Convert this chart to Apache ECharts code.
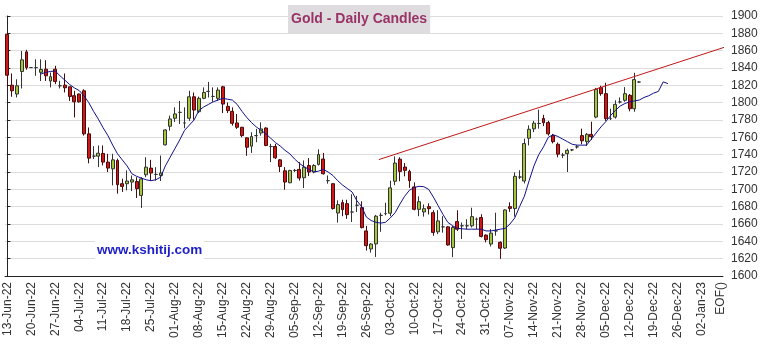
<!DOCTYPE html>
<html><head><meta charset="utf-8">
<script src="https://cdn.jsdelivr.net/npm/echarts@6/dist/echarts.min.js"></script>
<style>html,body{margin:0;padding:0;background:#fff}#c{width:763px;height:344px}</style>
</head><body><div id="c"></div>
<script>
// Weekly tick labels (Mondays), each week = 5 trading-day slots
const weekLabels = ['13-Jun-22','20-Jun-22','27-Jun-22','04-Jul-22','11-Jul-22','18-Jul-22','25-Jul-22',
 '01-Aug-22','08-Aug-22','15-Aug-22','22-Aug-22','29-Aug-22','05-Sep-22','12-Sep-22','19-Sep-22','26-Sep-22',
 '03-Oct-22','10-Oct-22','17-Oct-22','24-Oct-22','31-Oct-22','07-Nov-22','14-Nov-22','21-Nov-22','28-Nov-22',
 '05-Dec-22','12-Dec-22','19-Dec-22','26-Dec-22','02-Jan-23'];
const endLabel = 'EOF()';
const slotCount = 150;
const endSlot = 149;

// Daily candles: [open, close, low, high]
const opens  = [1878.9,1820.2,1810,1836,1858.6,1840.5,1840.5,1835,1838.6,1825,
 1838.6,1819.5,1820.2,1818.3,1808,1810,1813.7,1764,1738.3,1738.3,
 1741.4,1731.4,1723.7,1733.3,1706.5,1706.5,1708.4,1709,1693,1716.8,
 1724.5,1717.2,1716,1751.3,1772.8,1782,1788.8,1776.6,1782,1806.8,
 1789.6,1805,1813,1807.2,1805,1818.3,1795.7,1790,1776.6,1771.6,
 1759.4,1749.8,1762,1765,1770.8,1749.4,1749.4,1734,1721.4,1707.6,
 1721.8,1723,1713.4,1727.5,1720,1728.7,1735,1710,1706.5,1672.7,
 1684.7,1683.5,1673.8,1681.6,1678.9,1652,1631.2,1637,1670,1672,
 1672.4,1709.3,1734.8,1725.7,1720.7,1702.8,1676.9,1673.9,1680,1673.1,
 1651,1656.7,1656.7,1632.7,1662.8,1657.9,1657.9,1657.9,1665.5,1667.4,
 1647.2,1636.9,1652,1638.8,1632.3,1680,1677.8,1714.2,1709.6,1759,
 1769.8,1776,1781.7,1777,1762,1752,1739.5,1741.2,1745.5,1749,
 1762,1755,1763.4,1783.4,1817.4,1810.4,1781.6,1783.4,1800.8,1802.7,
 1808.5,1793,1823.8];
const closes = [1831.7,1813.7,1819.5,1849.4,1840.5,1840.5,1840.5,1838.3,1831,1830,
 1824.5,1819.5,1817.2,1807.2,1801,1801,1764,1736,1738.3,1741.7,
 1731.4,1724.5,1734,1705.4,1703.4,1709.6,1711,1700.8,1712,1725.6,
 1718.8,1717.2,1718.8,1768.5,1781.2,1787,1788.8,1776.6,1806.8,1791.5,
 1805,1811.8,1813,1807.2,1814.5,1798.4,1790.8,1776.2,1771.6,1762,
 1748.6,1760.9,1762,1769.7,1750.6,1749.4,1736.4,1726.4,1708.4,1721.8,
 1721.8,1713,1725.6,1720,1727.5,1740.2,1718,1710,1677.8,1682.4,
 1676.6,1670.8,1673.8,1681.6,1655.8,1635,1636.9,1669,1670,1672,
 1701.7,1730.3,1720.7,1721.9,1710,1676.9,1685.7,1677.7,1677.7,1650.3,
 1663.6,1656.7,1635.8,1656,1654,1657.9,1657.9,1668.5,1665.5,1645.7,
 1641.9,1649.5,1652,1632,1676.2,1678,1715,1714.2,1752.8,1769.3,
 1776.3,1776,1776.8,1764,1755,1740.6,1739.5,1745,1745.5,1749,
 1756,1763.4,1760.8,1815.4,1810.4,1781.6,1781.6,1798,1800.8,1810.4,
 1793,1826.6,1823.8];
const lows   = [1818,1806.8,1806,1816.4,1838,1840,1831,1825,1825,1817.6,
 1821.4,1816.4,1811.8,1802,1783,1800,1762,1730,1735,1725.7,
 1727.6,1720,1704.6,1695,1697,1698.8,1698,1690,1678.5,1714,
 1710,1710,1709.6,1750.6,1767.8,1777.7,1775.4,1770.5,1779,1780.4,
 1788,1804,1806,1801,1802,1788,1788,1773.5,1769.7,1760,
 1738.7,1742,1754.4,1762,1749.8,1731.4,1735,1720,1699.6,1707,
 1720,1710,1701.5,1715.3,1718.5,1727.5,1717,1706.5,1676.6,1661.6,
 1669,1666,1662.3,1673.8,1655,1629.3,1627,1622,1651,1670,
 1669,1704.8,1709.3,1715,1701.7,1675.8,1669,1668.5,1671,1646.5,
 1648.4,1650,1635,1621.7,1652,1642.7,1654,1656,1654,1644.5,
 1638.8,1634,1646.5,1619.8,1631.2,1674,1668.5,1711.8,1706.8,1750.6,
 1766,1770,1773,1762,1753,1737,1736,1720,1744,1747,
 1752,1750,1757,1782,1808,1779,1780,1781.6,1799,1801,
 1790,1789.5,1822.8];
const highs  = [1881.5,1833.7,1827,1859.7,1861,1841,1850,1850,1849,1834.8,
 1842.5,1825.2,1833.7,1818.5,1813.7,1810.5,1815.5,1771.4,1749.8,1750.6,
 1750.6,1741,1741,1735.4,1712.3,1721.8,1716,1714,1714,1737,
 1734,1725.6,1739,1769.5,1785,1794.6,1802,1794.6,1813.7,1811.8,
 1807,1817.6,1824,1817.6,1817.6,1819.5,1800.3,1794.6,1787,1772,
 1760,1765.8,1769.7,1777.3,1771.5,1752.5,1752.5,1735,1725.6,1722.5,
 1723.5,1731.4,1733.3,1736,1729,1746,1742,1716,1707,1687.3,
 1688,1688,1694.3,1692.4,1686.2,1657.9,1638,1670.5,1673,1684.6,
 1710,1738,1737,1730.3,1722.6,1708,1692,1682.6,1683.8,1675.8,
 1676,1669,1657.5,1657.9,1675.8,1661.7,1665.5,1678.8,1667.4,1671.2,
 1648,1654,1673,1640,1677,1685,1719.6,1722,1758.5,1773.8,
 1779,1792,1786,1779,1764,1754,1742,1747,1746.5,1751,
 1770,1765,1778,1817,1819.5,1823,1793,1802.7,1806,1818,
 1810,1834.5,1824.5];

// Moving average (blue), starting at slot 7, runs a few slots past the last candle
const maStart = 7;
const maValues = [1833,1835,1836,1836.5,1831,1826,1821,1817,1814,1808,
 1800,1790,1781,1771,1762,1751,1741,1734,1727,1718,
 1715,1713,1711,1710,1711,1714,1727,1737,1747,1757,
 1768,1774,1780,1791,1795,1798,1801,1803,1805,1804,
 1803,1798,1790,1783,1777,1772,1768,1764,1759,1754,
 1750,1745,1741,1735,1730,1726,1723,1720,1721,1723,
 1720,1716,1710,1705,1701,1697,1687,1680,1668,1664,
 1662,1661,1662,1667,1673,1683,1692,1699,1702,1703.5,
 1703,1700,1691,1681,1671,1662,1658,1655,1654.5,1654,
 1654,1654,1654,1652,1652,1653,1654,1655,1660,1667,
 1680,1692,1710,1727,1740,1749,1760,1763,1761,1758,
 1755,1752,1751,1751,1751,1758,1765,1772,1778,1785,
 1791,1796,1799,1801,1802,1803,1806,1808,1811,1813,
 1824,1822];

// Trend line endpoints [slot position, price]
const trendLine = [[77.6, 1734.3], [151, 1866.1]];

const yTicks = {min: 1600, max: 1900, step: 20};
const titleText = 'Gold - Daily Candles';
const watermark = 'www.kshitij.com';

// ---- build ----
const cats = [];
const labelled = new Set();
for (let i = 0; i < slotCount; i++) {
  if (i % 5 === 0 && i / 5 < weekLabels.length) { cats.push(weekLabels[i / 5]); labelled.add(i); }
  else if (i === endSlot) { cats.push(endLabel); labelled.add(i); }
  else cats.push('s' + i);
}
const candles = opens.map((o, i) => [o, closes[i], lows[i], highs[i]]);
const ma = [];
for (let i = 0; i < maStart; i++) ma.push(null);
maValues.forEach(v => ma.push(v));

const showFn = (idx) => labelled.has(idx);
const FONT = 'Liberation Sans, Arial, sans-serif';

const chart = echarts.init(document.getElementById('c'), null, {renderer: 'canvas'});
chart.setOption({
  animation: false,
  backgroundColor: '#fff',
  title: {
    text: titleText, left: 288, top: 5,
    backgroundColor: '#dedcde', padding: [7, 3, 7, 3],
    textStyle: {fontFamily: FONT, fontSize: 14, fontWeight: 'bold', color: '#993366', lineHeight: 14}
  },
  grid: {left: 5, right: 40, top: 16, bottom: 68, containLabel: false},
  xAxis: [{
    type: 'category', data: cats, boundaryGap: true,
    axisLine: {lineStyle: {color: '#222', width: 1}},
    axisTick: {interval: showFn, length: 3, lineStyle: {color: '#222'}},
    axisLabel: {interval: showFn, rotate: 90, margin: 6, fontSize: 12, color: '#333', fontFamily: FONT},
    splitLine: {show: false}
  }, {
    type: 'value', min: -0.5, max: slotCount - 0.5, show: false
  }],
  yAxis: {
    type: 'value', position: 'right', min: yTicks.min, max: yTicks.max, interval: yTicks.step,
    axisLine: {show: true, lineStyle: {color: '#222'}},
    axisTick: {show: true, length: 3, lineStyle: {color: '#222'}},
    axisLabel: {fontSize: 12, color: '#333', margin: 8, fontFamily: FONT, formatter: (v) => String(v)},
    splitLine: {lineStyle: {color: '#dcdcdc', width: 1}}
  },
  graphic: [{
    type: 'rect', z: 1, shape: {x: 95, y: 236, width: 109, height: 28}, style: {fill: '#fff'}
  }, {
    type: 'text', z: 1, x: 97, y: 250,
    style: {text: watermark, fill: '#1e1ec8', font: 'bold 13.5px ' + FONT, textVerticalAlign: 'middle'}
  }],
  series: [{
    type: 'candlestick', data: candles, barWidth: 3.4,
    itemStyle: {color: '#a2c83a', color0: '#d01818', borderColor: '#333', borderColor0: '#4a0a0a',
      borderColorDoji: '#333', borderWidth: 1}
  }, {
    type: 'line', data: ma, showSymbol: false, symbol: 'none', connectNulls: false,
    lineStyle: {color: '#10108c', width: 1}, z: 3
  }, {
    type: 'line', xAxisIndex: 1, data: trendLine, showSymbol: false, symbol: 'none', clip: false,
    lineStyle: {color: '#c01818', width: 1}, z: 3
  }]
});
</script></body></html>
